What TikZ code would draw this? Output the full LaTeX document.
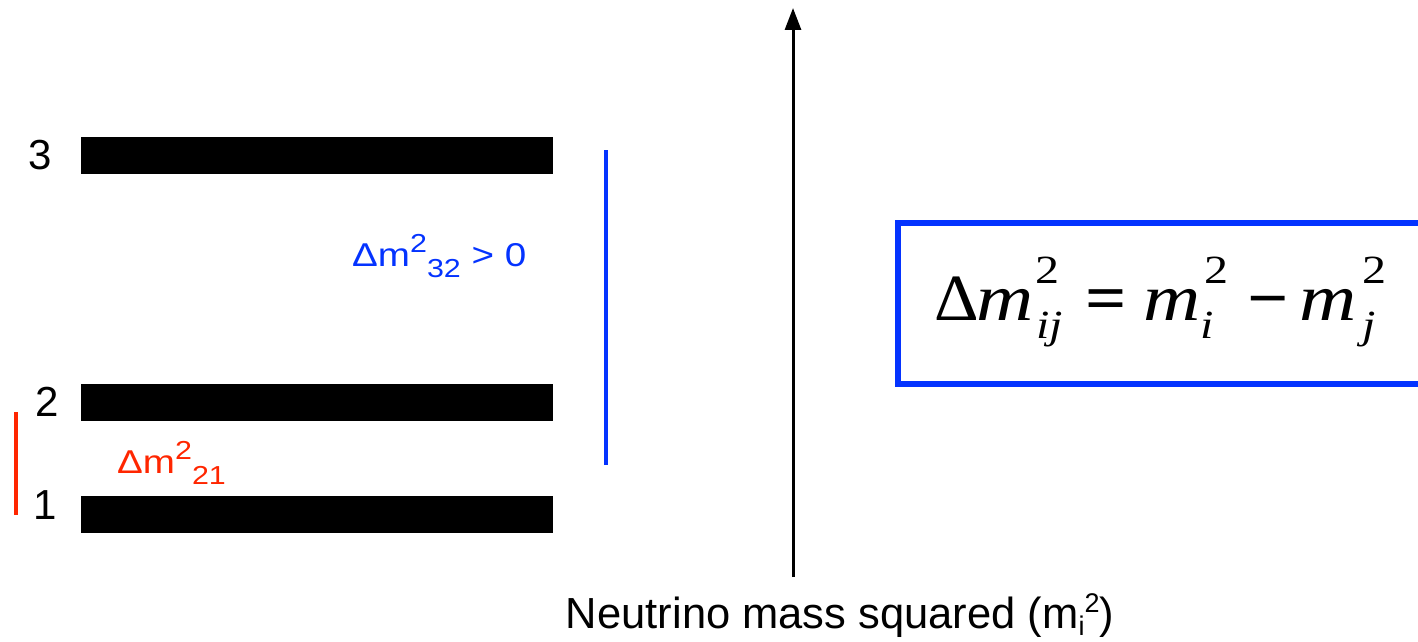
\documentclass[tikz,border=0pt]{standalone}
\usepackage{fontspec}
\setmainfont{Liberation Sans}
\newfontfamily\serifx{Liberation Serif}
\usetikzlibrary{arrows.meta}
\definecolor{kblue}{RGB}{4,51,255}
\definecolor{kred}{RGB}{255,38,0}
\newcommand\lsup[1]{\raisebox{14pt}{\fontsize{26}{26}\selectfont #1}}
\newcommand\lsub[1]{\raisebox{-11pt}{\fontsize{26}{26}\selectfont #1}}
\newcommand\wide[1]{\scalebox{1.17}[1]{#1}}
\begin{document}
\begin{tikzpicture}[x=1pt,y=-1pt,
  bar/.style={fill=black, inner sep=0pt, minimum width=472pt, minimum height=37pt, anchor=north west},
  lvl/.style={font=\fontsize{42}{42}\selectfont, inner sep=0pt},
  dlabel/.style={font=\fontsize{33}{33}\selectfont, inner sep=0pt, anchor=base west},
  bracket/.style={line width=3.5pt},
  fmain/.style={font=\serifx\fontsize{66}{66}\selectfont, inner sep=0pt, anchor=base west},
  fscript/.style={font=\serifx\fontsize{40}{40}\selectfont, inner sep=0pt, anchor=base west}]
\useasboundingbox (0,0) rectangle (1418,642);
% levels
\node[bar] (b3) at (81,137) {};
\node[bar] (b2) at (81,384) {};
\node[bar] (b1) at (81,496) {};
\node[lvl] (l3) at (40,155) {3};
\node[lvl] (l2) at (47,402) {2};
\node[lvl] (l1) at (45,505) {1};
% brackets
\coordinate (r1) at (16,412);
\coordinate (r2) at (16,515);
\draw[bracket, kred] (r1) -- (r2);
\coordinate (u1) at (606,150);
\coordinate (u2) at (606,465);
\draw[bracket, kblue] (u1) -- (u2);
% labels
\node[dlabel, text=kblue] (d32) at (352,266) {\wide{Δm\lsup{2}\lsub{32} > 0}};
\node[dlabel, text=kred] (d21) at (117,473) {\wide{Δm\lsup{2}\lsub{21}}};
% axis
\coordinate (a0) at (793,577);
\coordinate (a1) at (793,8);
\draw[line width=3pt, -{Triangle[width=16pt,length=22pt]}] (a0) -- (a1);
\node[font=\fontsize{43.5}{44}\selectfont, inner sep=0pt, anchor=base] (ax) at (840,628)
  {Neutrino mass squared (m\raisebox{-7pt}{\fontsize{27}{27}\selectfont i}\raisebox{16pt}{\fontsize{27}{27}\selectfont 2})};
% formula box
\node[draw=kblue, line width=6pt, minimum width=542pt, minimum height=161pt, inner sep=0pt] (box) at (1169,303.5) {};
\node[fmain] (fd) at (934,320) {\scalebox{1.05}[1]{Δ}};
\node[fmain] (f1) at (976,320) {\scalebox{1.2}[1]{\itshape m}};
\node[fscript] (f1p) at (1035,283) {\scalebox{1.2}[1]{2}};
\node[fscript] (f1b) at (1036,338) {\scalebox{1.2}[1]{\itshape ij}};
\node[fmain] (eq) at (1085,320) {\scalebox{1.1}[1]{\bfseries =}};
\node[fmain] (f2) at (1143,320) {\scalebox{1.2}[1]{\itshape m}};
\node[fscript] (f2p) at (1204,283) {\scalebox{1.2}[1]{2}};
\node[fscript] (f2b) at (1200,338) {\scalebox{1.2}[1]{\itshape i}};
\node[fmain] (mi) at (1247,320) {\scalebox{1.1}[1]{\bfseries −}};
\node[fmain] (f3) at (1299,320) {\scalebox{1.2}[1]{\itshape m}};
\node[fscript] (f3p) at (1362,283) {\scalebox{1.2}[1]{2}};
\node[fscript] (f3b) at (1362,338) {\scalebox{1.2}[1]{\itshape j}};
\end{tikzpicture}
\end{document}
